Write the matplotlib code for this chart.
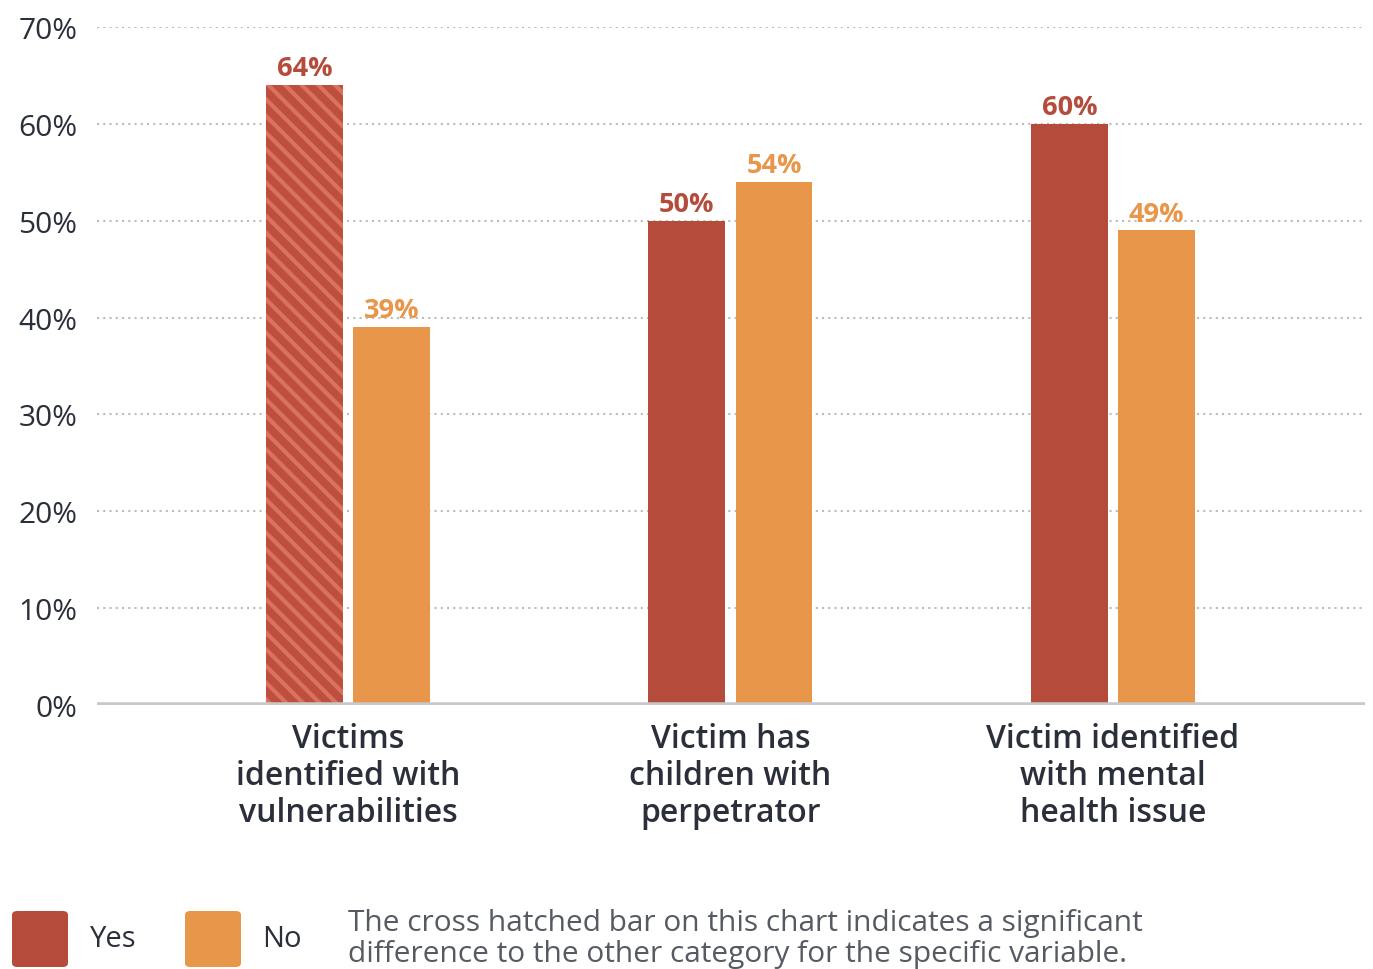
import matplotlib
matplotlib.use("Agg")
import matplotlib.pyplot as plt
from matplotlib.patches import FancyBboxPatch
import numpy as np

categories = ["Victims\nidentified with\nvulnerabilities",
              "Victim has\nchildren with\nperpetrator",
              "Victim identified\nwith mental\nhealth issue"]
yes_vals = [64, 50, 60]
no_vals = [39, 54, 49]
yes_hatched = [True, False, False]
yticks = [0, 10, 20, 30, 40, 50, 60, 70]
ytick_labels = [f"{v}%" for v in yticks]

RED = "#B54B3B"
ORANGE = "#E8964A"
HATCH = "#DA735E"
TEXT = "#2B2F3A"

plt.rcParams['font.family'] = ['Open Sans', 'DejaVu Sans']
plt.rcParams['hatch.linewidth'] = 3.0

fig = plt.figure(figsize=(13.73, 9.70), dpi=100)
ax = fig.add_axes([97/1373, 1-706/970, (1365-97)/1373, (706-28)/970])

x = np.arange(len(categories))
w = 0.201
off = 0.114

for i in range(len(categories)):
    if yes_hatched[i]:
        ax.bar(x[i]-off, yes_vals[i], w, color="#BE4F3E", edgecolor=HATCH, linewidth=0, hatch='\\\\', zorder=3)
    else:
        ax.bar(x[i]-off, yes_vals[i], w, color=RED, linewidth=0, zorder=3)
    ax.bar(x[i]+off, no_vals[i], w, color=ORANGE, linewidth=0, zorder=3)
    ax.text(x[i]-off, yes_vals[i]+0.4, f"{yes_vals[i]}%", ha='center', va='bottom',
            color=RED, fontsize=19.5, fontweight='bold')
    ax.text(x[i]+off, no_vals[i]+0.4, f"{no_vals[i]}%", ha='center', va='bottom',
            color=ORANGE, fontsize=19.5, fontweight='bold')

ax.set_xlim(-0.656, 2.659)
ax.set_ylim(0, 70)
ax.set_yticks(yticks)
ax.set_yticklabels(ytick_labels, fontsize=21.5, color=TEXT, fontweight='medium')
for v in yticks[1:]:
    ax.axhline(v, color="#bbbbbb", linewidth=1.5, linestyle=(0, (1, 2)), zorder=1)
ax.axhline(0, color="#c8c8c8", linewidth=4, zorder=4)
ax.set_xticks(x)
ax.set_xticklabels(categories, fontsize=23, color=TEXT, fontweight='semibold', linespacing=1.17)
ax.tick_params(axis='both', length=0)
ax.tick_params(axis='x', pad=12)
ax.tick_params(axis='y', pad=14)
for s in ax.spines.values():
    s.set_visible(False)

# legend
def sq(x0, color):
    p = FancyBboxPatch((x0/1373, 1-968/970), 56/1373, 56/970,
                       boxstyle="round,pad=0,rounding_size=0.004", transform=fig.transFigure,
                       facecolor=color, edgecolor='none')
    fig.patches.append(p)
sq(12, RED)
sq(185, ORANGE)
fig.text(90/1373, 1-940/970, "Yes", fontsize=21, color=TEXT, va='center', fontweight='medium')
fig.text(262/1373, 1-940/970, "No", fontsize=21, color=TEXT, va='center', fontweight='medium')
fig.text(348/1373, 1-939/970, "The cross hatched bar on this chart indicates a significant\ndifference to the other category for the specific variable.",
         fontsize=21.5, color="#555A63", va='center', linespacing=1.12)

fig.savefig("out.png", dpi=100)
